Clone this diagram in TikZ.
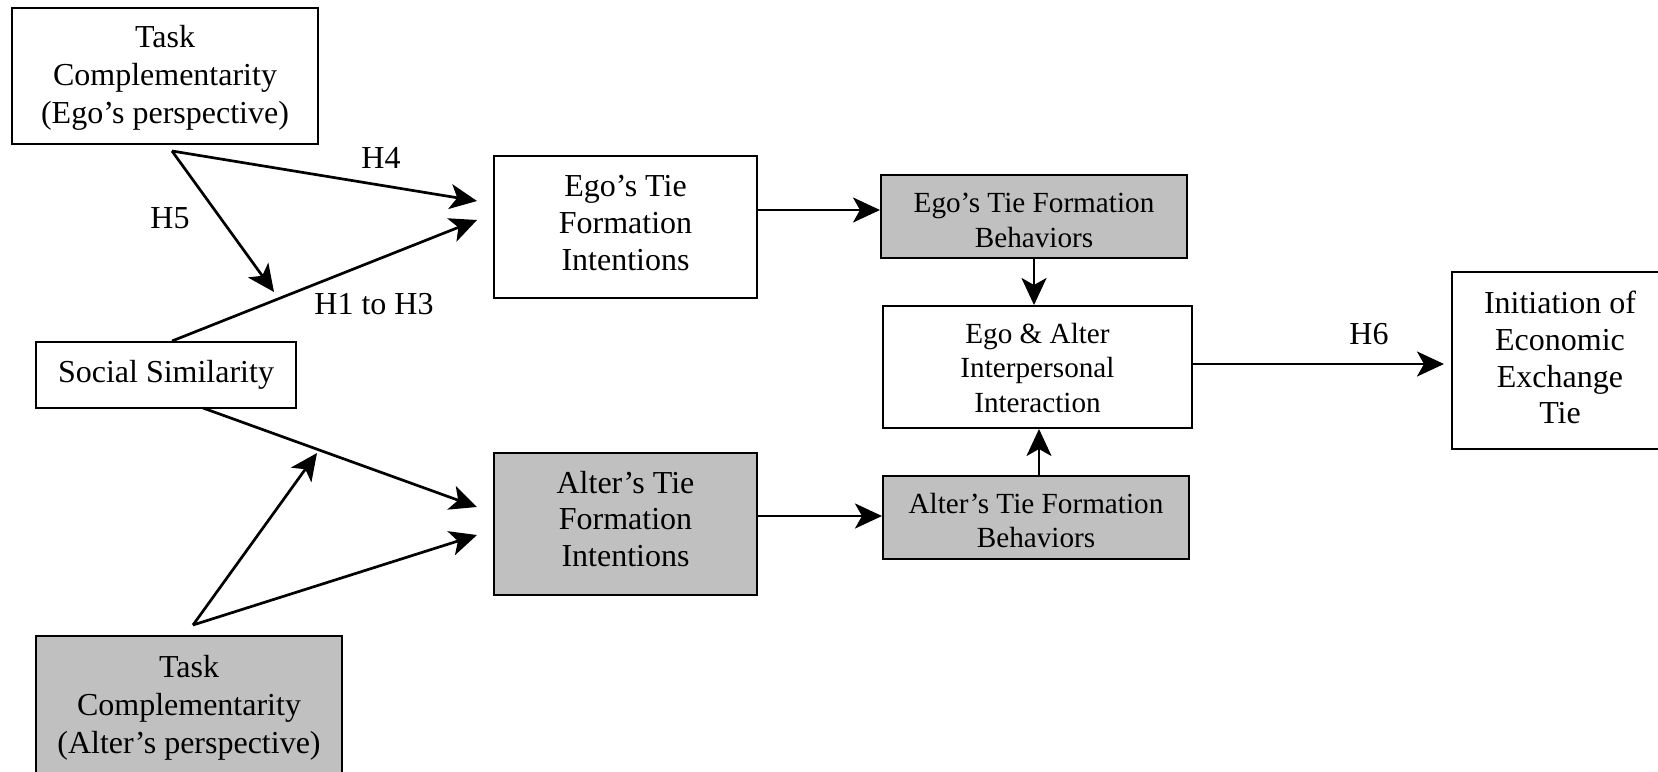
\documentclass[tikz,border=0pt]{standalone}
\usepackage{fontspec}
\setmainfont{Liberation Serif}
\usetikzlibrary{arrows.meta}
\definecolor{boxgray}{RGB}{192,192,192}
\begin{document}
\begin{tikzpicture}[x=0.5pt,y=-0.5pt,
  box/.style={draw=black,line width=1pt,inner sep=0pt},
  shaded/.style={fill=boxgray},
  big/.style={inner sep=0pt,align=center,font=\fontsize{16}{19}\selectfont},
  mid/.style={inner sep=0pt,align=center,font=\fontsize{16}{18.4}\selectfont},
  small/.style={inner sep=0pt,align=center,font=\fontsize{14.6}{17.2}\selectfont},
  arr/.style={line width=1.35pt,-{Stealth[length=13.5pt,width=12.5pt,inset=3.5pt]}},
  lab/.style={inner sep=0pt,font=\fontsize{16}{19}\selectfont}]
\useasboundingbox (0,0) rectangle (1658,771);
\clip (0,0) rectangle (1658,771);
% boxes
\node[box,minimum width=153pt,minimum height=68pt,
  label={[big,yshift=-1pt]center:Task\\Complementarity\\(Ego’s perspective)}] (tcego) at (165,76) {};
\node[box,minimum width=130pt,minimum height=33pt,
  label={[big]center:Social Similarity}] (social) at (166,375) {};
\node[box,shaded,minimum width=153pt,minimum height=77pt,
  label={[big,yshift=2.75pt]center:Task\\Complementarity\\(Alter’s perspective)}] (tcalter) at (189,713) {};
\node[box,minimum width=131.5pt,minimum height=71pt,
  label={[mid,yshift=2pt]center:Ego’s Tie\\Formation\\Intentions}] (egotfi) at (625.5,227) {};
\node[box,shaded,minimum width=131.5pt,minimum height=71pt,
  label={[mid,yshift=2.5pt]center:Alter’s Tie\\Formation\\Intentions}] (altertfi) at (625.5,524) {};
\node[box,shaded,minimum width=153pt,minimum height=41.5pt,
  label={[small,yshift=-2pt]center:Ego’s Tie Formation\\Behaviors}] (egotfb) at (1034,216.5) {};
\node[box,minimum width=154.5pt,minimum height=61pt,
  label={[small,yshift=-0.5pt]center:Ego \& Alter\\Interpersonal\\Interaction}] (inter) at (1037.5,367) {};
\node[box,shaded,minimum width=153pt,minimum height=41.5pt,
  label={[small,yshift=-1.5pt]center:Alter’s Tie Formation\\Behaviors}] (altertfb) at (1036,517.5) {};
\node[box,minimum width=108pt,minimum height=88.5pt,
  label={[mid,yshift=1.5pt]center:Initiation of\\Economic\\Exchange\\Tie}] (init) at (1560,360.5) {};
% connector points
\coordinate (tcegoOut) at (172,151);
\coordinate (h4end) at (477,201);
\coordinate (h13end) at (477,220);
\coordinate (h5end) at (274,292);
\coordinate (socOut) at (203,408);
\coordinate (socEnd) at (477,507);
\coordinate (tcaltOut) at (193,625);
\coordinate (modEnd) at (317,453);
\coordinate (tcaltEnd) at (477,535);
% connectors
\draw[arr] (tcegoOut) -- (h4end);
\draw[arr] (tcegoOut) -- (h5end);
\draw[arr] (social.north -| tcegoOut) -- (h13end);
\draw[arr] (socOut) -- (socEnd);
\draw[arr] (tcaltOut) -- (modEnd);
\draw[arr] (tcaltOut) -- (tcaltEnd);
\draw[arr] (egotfi.east |- 0,210) -- (egotfb.west |- 0,210);
\draw[arr] (altertfi.east |- 0,516) -- (altertfb.west |- 0,516);
\draw[arr] (egotfb.south) -- (egotfb.south |- inter.north);
\draw[arr] (altertfb.north -| 1039,0) -- (inter.south -| 1039,0);
\draw[arr] (inter.east |- 0,364) -- ([xshift=-3.5pt]init.west |- 0,364);
% labels
\node[lab] (h4) at (381,158) {H4};
\node[lab] (h5) at (170,218) {H5};
\node[lab] (h13) at (374,304) {H1 to H3};
\node[lab] (h6) at (1369,334) {H6};
\end{tikzpicture}
\end{document}
